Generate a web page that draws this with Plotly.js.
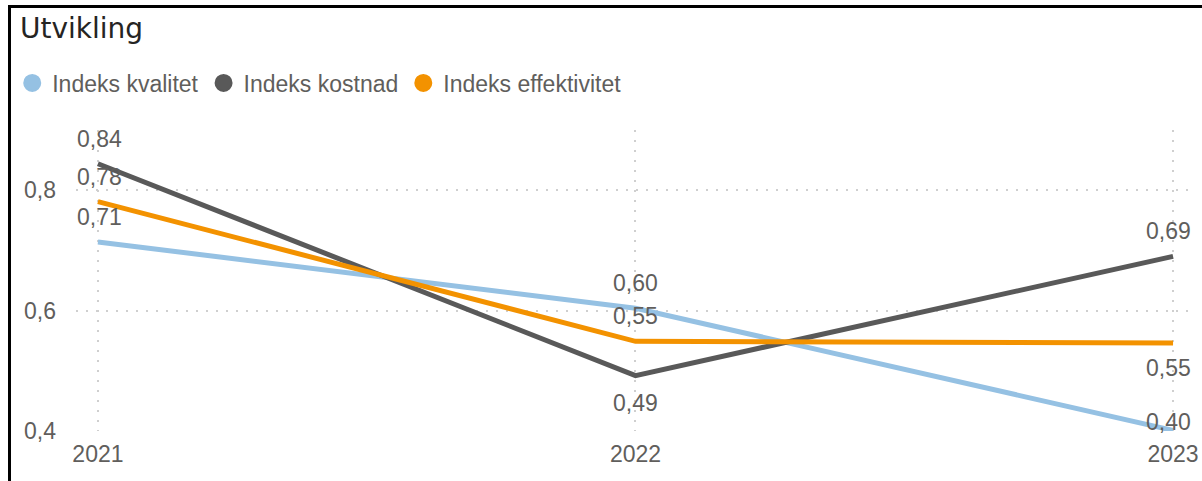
<!DOCTYPE html>
<html>
<head>
<meta charset="utf-8">
<script src="https://cdn.plot.ly/plotly-3.0.1.min.js"></script>
<style>
  html, body { margin: 0; padding: 0; overflow: hidden; background: #fff; }
  #chart { position: absolute; left: 0; top: 0; width: 1202px; height: 481px; }
  #frame { position: absolute; left: 8px; top: 5px; width: 1400px; height: 700px;
           border: 3px solid #000; pointer-events: none; box-sizing: border-box; }
</style>
</head>
<body>
<div id="chart"></div>
<div id="frame"></div>
<script>
// ---- data ----
const years = [2021, 2022, 2023];
const seriesNames = ["Indeks kvalitet", "Indeks kostnad", "Indeks effektivitet"];
const kvalitet = [0.714, 0.604, 0.401];
const kostnad = [0.844, 0.492, 0.690];
const effektivitet = [0.781, 0.549, 0.546];
const yTicks = [0.4, 0.6, 0.8];

// ---- styles ----
const colors = ["#95C1E3", "#595959", "#F39200"];
const allSeries = [kvalitet, kostnad, effektivitet];
// vertical offset (px) of each data label relative to its point
const labelShift = [
  [25, 25, 8],
  [25, -27, 25],
  [25, 25, -25]
];
const labelXShift = [2, 0, -5];
const textColor = "#605E5C";
const font = "Liberation Sans, Arial, sans-serif";

const traces = [];
allSeries.forEach((vals, i) => {
  traces.push({
    x: years, y: vals, type: "scatter", mode: "lines",
    name: seriesNames[i], showlegend: false,
    line: { color: colors[i], width: 5 },
    hoverinfo: "x+y"
  });
});
// legend entries (circle markers)
allSeries.forEach((vals, i) => {
  traces.push({
    x: [null], y: [null], type: "scatter", mode: "markers",
    name: seriesNames[i], showlegend: true,
    marker: { color: colors[i], size: 16, symbol: "circle", line: { color: colors[i], width: 2 } }
  });
});

const annotations = [];
allSeries.forEach((vals, i) => {
  vals.forEach((v, j) => {
    annotations.push({
      x: years[j], y: v, xref: "x", yref: "y",
      text: v.toFixed(2).replace(".", ","),
      showarrow: false, xanchor: "center", yanchor: "middle",
      yshift: labelShift[i][j], xshift: labelXShift[j],
      font: { family: font, size: 23, color: textColor }
    });
  });
});

const gridStyle = { showgrid: true, gridcolor: "#CFCFCF", gridwidth: 2, griddash: "2px,8px" };

const layout = {
  width: 1202, height: 481,
  margin: { l: 72, r: 14, t: 130, b: 50 },
  paper_bgcolor: "#fff", plot_bgcolor: "#fff",
  separators: ",.",
  title: {
    text: "Utvikling", xref: "container", yref: "container",
    x: 20 / 1202, xanchor: "left", y: 1 - 28 / 481, yanchor: "middle",
    font: { family: "DejaVu Sans, sans-serif", size: 28, color: "#252423" }
  },
  showlegend: true,
  legend: {
    orientation: "h", x: -64 / 1116, xanchor: "left", y: 1 + 47 / 301, yanchor: "middle",
    font: { family: font, size: 23, color: textColor },
    bgcolor: "rgba(0,0,0,0)", itemclick: false, itemdoubleclick: false
  },
  xaxis: Object.assign({
    range: [2021 - 22 / 539.5, 2023 + 15 / 539.5],
    tickvals: years, ticktext: years.map(String),
    zeroline: false, showline: false, ticks: "",
    ticklabelstandoff: 7,
    tickfont: { family: font, size: 23, color: textColor }
  }, gridStyle),
  yaxis: Object.assign({
    range: [0.4, 0.9],
    tickvals: yTicks, ticktext: yTicks.map(v => String(v).replace(".", ",")),
    zeroline: false, showline: false, ticks: "",
    ticklabelstandoff: 19,
    tickfont: { family: font, size: 23, color: textColor }
  }, gridStyle),
  annotations: annotations
};

Plotly.newPlot("chart", traces, layout, { displayModeBar: false, staticPlot: true });
</script>
</body>
</html>
